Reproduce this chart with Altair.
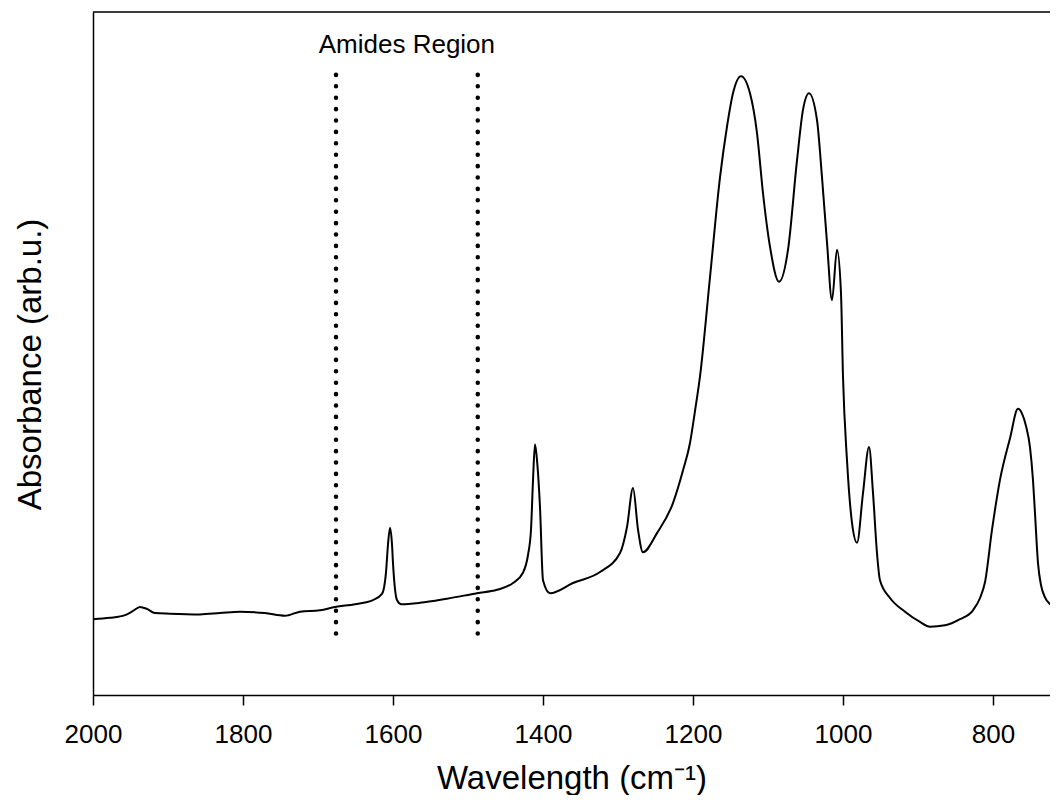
import altair as alt
import pandas as pd

# Spectrum (wavenumber in cm-1, absorbance in arb. units)
wavenumber = [2000, 1977.3, 1957.3, 1946.7, 1937.3, 1928, 1917.3, 1897.3, 1857.3, 1830.7,
              1804, 1770.7, 1744, 1724, 1697.3, 1677.3, 1650.7, 1626.7, 1614.7, 1609.3,
              1606.7, 1604, 1601.3, 1600, 1594.7, 1589.3, 1564, 1528, 1488, 1461.3,
              1440, 1426.7, 1420, 1416, 1413.3, 1410.7, 1408, 1404, 1400, 1390.7,
              1360, 1324, 1297.3, 1288, 1280, 1273.3, 1266.7, 1248, 1226.7, 1213.3,
              1204, 1197.3, 1190.7, 1177.3, 1164, 1154.7, 1146.7, 1136, 1124, 1114.7,
              1106.7, 1097.3, 1085.3, 1073.3, 1061.3, 1053.3, 1045.3, 1034.7, 1028, 1021.3,
              1014.7, 1008, 1002.7, 1000, 994.7, 988, 981.3, 973.3, 965.3, 960,
              954.7, 950.7, 937.3, 917.3, 897.3, 884, 864, 844, 826.7, 817.3,
              810.7, 801.3, 790.7, 777.3, 766.7, 761.3, 756, 750.7, 746.7, 744,
              740, 736, 730.7, 724, 714.7]
absorbance = [0.111, 0.113, 0.117, 0.123, 0.129, 0.126, 0.120, 0.119, 0.118, 0.120,
              0.122, 0.120, 0.116, 0.122, 0.124, 0.129, 0.133, 0.139, 0.148, 0.180,
              0.220, 0.245, 0.220, 0.193, 0.139, 0.133, 0.135, 0.141, 0.149, 0.154,
              0.164, 0.179, 0.205, 0.242, 0.315, 0.367, 0.344, 0.275, 0.168, 0.149,
              0.164, 0.180, 0.208, 0.246, 0.303, 0.242, 0.209, 0.237, 0.281, 0.329,
              0.369, 0.416, 0.466, 0.612, 0.758, 0.832, 0.881, 0.906, 0.881, 0.823,
              0.735, 0.656, 0.605, 0.652, 0.783, 0.857, 0.881, 0.842, 0.758, 0.662,
              0.578, 0.652, 0.589, 0.466, 0.344, 0.252, 0.223, 0.296, 0.363, 0.296,
              0.208, 0.168, 0.142, 0.122, 0.107, 0.100, 0.102, 0.111, 0.124, 0.142,
              0.165, 0.242, 0.315, 0.376, 0.419, 0.412, 0.394, 0.363, 0.315, 0.266,
              0.193, 0.161, 0.143, 0.133, 0.127]

amide_bounds = [1676, 1487]
amide_top = 0.908
amide_bottom = 0.078
amide_label = "Amides Region"
label_x = 1581.5
label_y = 0.94

x_ticks = [2000, 1800, 1600, 1400, 1200, 1000, 800]
x_domain = [2000, 724]
y_domain = [0, 1]

FONT = "Liberation Sans"
W, H = 957, 683

spec_df = pd.DataFrame({"wn": wavenumber, "abs": absorbance})
bounds_df = pd.DataFrame({"wn": amide_bounds, "top": [amide_top] * 2, "bottom": [amide_bottom] * 2})
label_df = pd.DataFrame({"wn": [label_x], "y": [label_y], "t": [amide_label]})

xscale = alt.Scale(domain=x_domain, nice=False, zero=False)
yscale = alt.Scale(domain=y_domain, nice=False, zero=False)

line = alt.Chart(spec_df).mark_line(
    color="black", strokeWidth=2, interpolate="monotone", clip=True
).encode(
    x=alt.X("wn:Q", scale=xscale,
            axis=alt.Axis(values=x_ticks, title="Wavelength (cm\u207b\u00b9)",
                          format="d", grid=False, domainColor="black", domainWidth=1.5,
                          tickColor="black", tickWidth=1.5, tickSize=10,
                          labelFont=FONT, labelFontSize=26, labelColor="black",
                          labelPadding=16, labelFlush=False,
                          titleFont=FONT, titleFontSize=33, titleFontWeight="normal",
                          titleColor="black", titleBaseline="alphabetic", titleY=93)),
    y=alt.Y("abs:Q", scale=yscale,
            axis=alt.Axis(title="Absorbance (arb.u.)", labels=False, ticks=False, grid=False,
                          domainColor="black", domainWidth=1.5,
                          titleFont=FONT, titleFontSize=33, titleFontWeight="normal",
                          titleColor="black", titleBaseline="alphabetic",
                          titleX=-53, titleY=352, titleAngle=-90)),
)

dots = alt.Chart(bounds_df).mark_rule(
    color="black", strokeWidth=4.5, strokeDash=[0.1, 11.3], strokeCap="round"
).encode(
    x=alt.X("wn:Q", scale=xscale),
    y=alt.Y("top:Q", scale=yscale),
    y2="bottom:Q",
)

label = alt.Chart(label_df).mark_text(
    font=FONT, fontSize=26, color="black", align="center", baseline="alphabetic"
).encode(
    x=alt.X("wn:Q", scale=xscale),
    y=alt.Y("y:Q", scale=yscale),
    text="t:N",
)

top_border = alt.Chart(label_df).mark_rule(color="black", strokeWidth=1.5).encode(
    x=alt.value(0), x2=alt.value(W), y=alt.value(0)
)

chart = alt.layer(line, dots, label, top_border).properties(
    width=W, height=H,
    autosize=alt.AutoSizeParams(type="none"),
    padding={"left": 85, "top": 4, "right": 0, "bottom": 100},
).configure_view(stroke=None).configure(background="white")

chart.save("out.html", embed_options={"renderer": "svg", "actions": False})
